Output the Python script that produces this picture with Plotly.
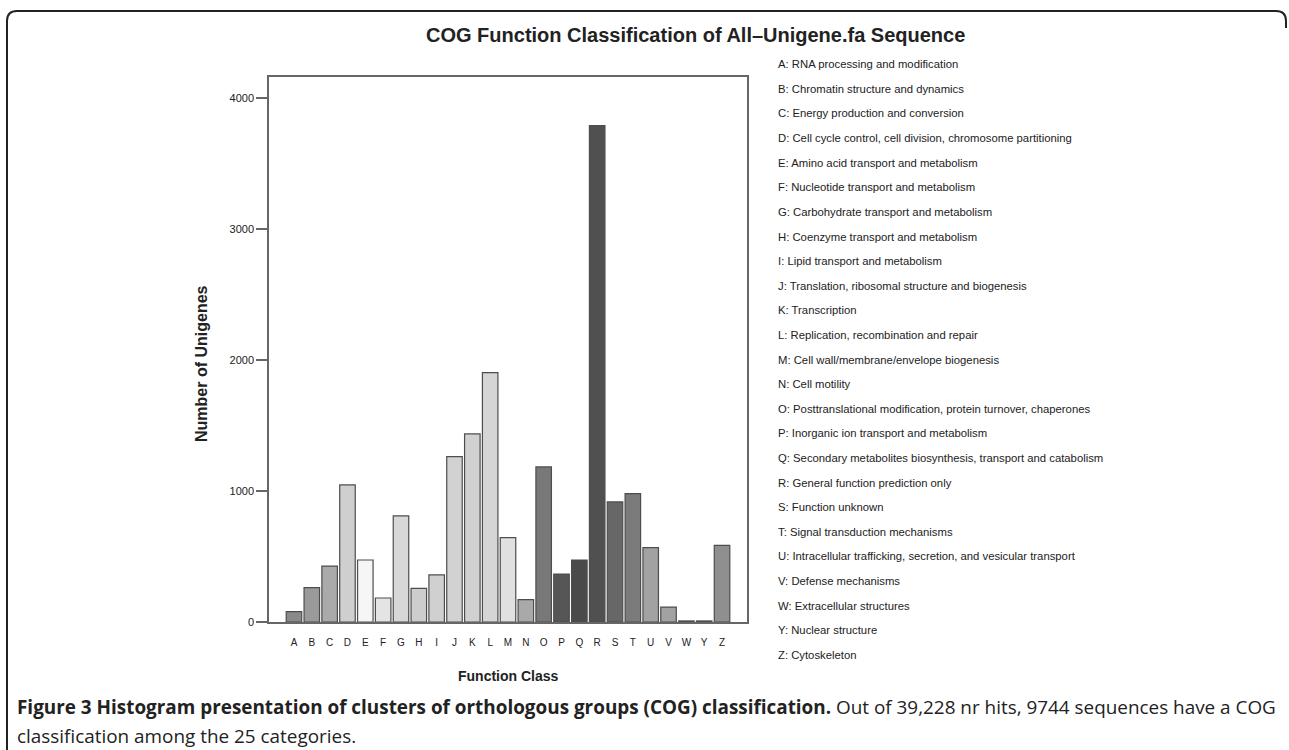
import plotly.graph_objects as go

categories = list("ABCDEFGHIJKLMNOPQRSTUVWYZ")
counts = [79, 262, 427, 1046, 473, 183, 809, 257, 359, 1262, 1435, 1903, 644,
          170, 1183, 366, 473, 3787, 916, 980, 567, 114, 8, 8, 584]
bar_colors = ["#8a8a8a", "#9a9a9a", "#aaaaaa", "#cfcfcf", "#f6f6f6", "#e4e4e4",
              "#d7d7d7", "#cdcdcd", "#d0d0d0", "#d2d2d2", "#d0d0d0", "#d5d5d5",
              "#e0e0e0", "#a9a9a9", "#787878", "#565656", "#4a4a4a", "#505050",
              "#676767", "#7b7b7b", "#a2a2a2", "#a2a2a2", "#333333", "#333333",
              "#8f8f8f"]
descriptions = [
    "A: RNA processing and modification",
    "B: Chromatin structure and dynamics",
    "C: Energy production and conversion",
    "D: Cell cycle control, cell division, chromosome partitioning",
    "E: Amino acid transport and metabolism",
    "F: Nucleotide transport and metabolism",
    "G: Carbohydrate transport and metabolism",
    "H: Coenzyme transport and metabolism",
    "I: Lipid transport and metabolism",
    "J: Translation, ribosomal structure and biogenesis",
    "K: Transcription",
    "L: Replication, recombination and repair",
    "M: Cell wall/membrane/envelope biogenesis",
    "N: Cell motility",
    "O: Posttranslational modification, protein turnover, chaperones",
    "P: Inorganic ion transport and metabolism",
    "Q: Secondary metabolites biosynthesis, transport and catabolism",
    "R: General function prediction only",
    "S: Function unknown",
    "T: Signal transduction mechanisms",
    "U: Intracellular trafficking, secretion, and vesicular transport",
    "V: Defense mechanisms",
    "W: Extracellular structures",
    "Y: Nuclear structure",
    "Z: Cytoskeleton",
]
y_ticks = [0, 1000, 2000, 3000, 4000]
title_text = "COG Function Classification of All\u2013Unigene.fa Sequence"
x_title = "Function Class"
y_title = "Number of Unigenes"
caption_bold = "Figure 3 Histogram presentation of clusters of orthologous groups (COG) classification."
caption_rest1 = " Out of 39,228 nr hits, 9744 sequences have a COG"
caption_line2 = "classification among the 25 categories."

W, H = 1289, 750
L, R, T, B = 269, 747, 77, 622
PW, PH = R - L, B - T


def px(x):
    return (x - L) / PW


def py(y):
    return (B - y) / PH


FONT = "Liberation Sans, Arial, Helvetica, sans-serif"

fig = go.Figure()
fig.add_trace(go.Bar(
    x=categories, y=counts,
    marker=dict(color=bar_colors, line=dict(color="#4d4d4d", width=1.2)),
    width=0.87,
    showlegend=False,
))

ann = []
ann.append(dict(text="<b>" + title_text + "</b>", x=px(695), y=py(35),
                xref="paper", yref="paper", showarrow=False,
                font=dict(family=FONT, size=20, color="#222222"),
                xanchor="center", yanchor="middle"))
ann.append(dict(text="<b>" + x_title + "</b>", x=px(508), y=py(676),
                xref="paper", yref="paper", showarrow=False,
                font=dict(family=FONT, size=14, color="#222222"),
                xanchor="center", yanchor="middle"))
ann.append(dict(text="<b>" + y_title + "</b>", x=px(201), y=py(364),
                xref="paper", yref="paper", showarrow=False, textangle=-90,
                font=dict(family=FONT, size=16, color="#222222"),
                xanchor="center", yanchor="middle"))
for i, d in enumerate(descriptions):
    ann.append(dict(text=d, x=px(776), y=py(64.3 + i * 24.6),
                    xref="paper", yref="paper", showarrow=False,
                    font=dict(family=FONT, size=11.3, color="#222222"),
                    xanchor="left", yanchor="middle"))
CAP = "Open Sans, Noto Sans, sans-serif"
ann.append(dict(text="<b>" + caption_bold + "</b>" + caption_rest1,
                x=px(15), y=py(707), xref="paper", yref="paper",
                showarrow=False, font=dict(family=CAP, size=18.9, color="#222222"),
                xanchor="left", yanchor="middle"))
ann.append(dict(text=caption_line2,
                x=px(15), y=py(736), xref="paper", yref="paper",
                showarrow=False, font=dict(family=CAP, size=18.9, color="#222222"),
                xanchor="left", yanchor="middle"))

# outer rounded frame (left, top, top-right corner)
rr = 10
frame_path = (
    f"M {px(7)} {py(750)} L {px(7)} {py(11 + rr)} "
    f"Q {px(7)} {py(11)} {px(7 + rr)} {py(11)} "
    f"L {px(1286 - rr)} {py(11)} "
    f"Q {px(1286)} {py(11)} {px(1286)} {py(11 + rr)} "
    f"L {px(1286)} {py(28)}"
)
shapes = [dict(type="path", path=frame_path, xref="paper", yref="paper",
               line=dict(color="#222222", width=2))]

fig.update_layout(
    width=W, height=H,
    margin=dict(l=L, r=W - R, t=T, b=H - B, pad=0),
    paper_bgcolor="white", plot_bgcolor="white",
    font=dict(family=FONT, color="#222222"),
    annotations=ann, shapes=shapes,
    bargap=0.13,
)
fig.update_xaxes(
    range=[-1.4, 25.4], showline=True, linecolor="#666666", linewidth=1.5,
    mirror=True, ticks="", showgrid=False, zeroline=False,
    tickfont=dict(family=FONT, size=10, color="#222222"),
    ticklabelstandoff=10,
)
fig.update_yaxes(
    range=[0, 4158], showline=True, linecolor="#666666", linewidth=1.5,
    mirror=True, ticks="outside", ticklen=11, tickcolor="#666666", tickwidth=1.5,
    tickvals=y_ticks, ticktext=[str(v) for v in y_ticks],
    showgrid=False, zeroline=False,
    tickfont=dict(family=FONT, size=11, color="#222222"),
)

fig.write_html("out.html", config={"displayModeBar": False},
               post_script="document.body.style.margin='0';document.body.style.overflow='hidden';")
